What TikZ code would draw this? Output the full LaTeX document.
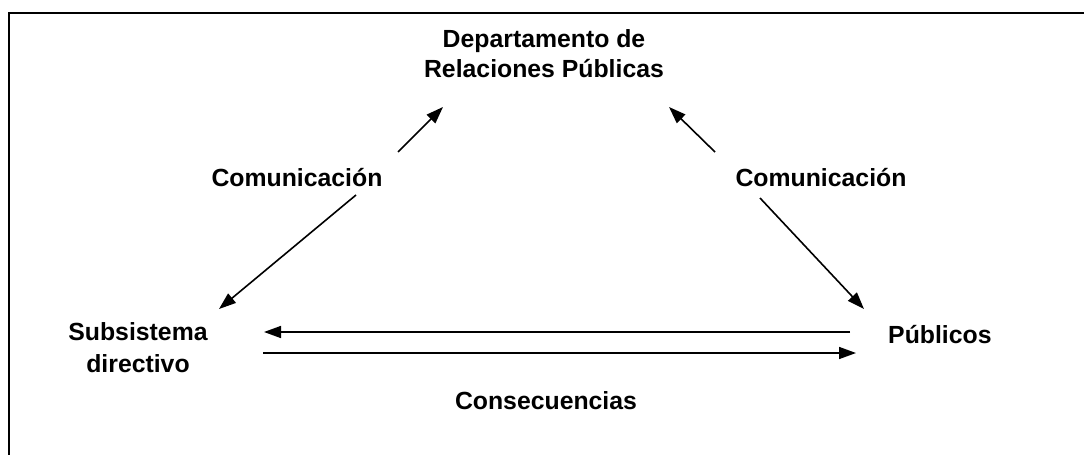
\documentclass[tikz,border=0pt]{standalone}
\usepackage{fontspec}
\setmainfont{Liberation Sans}
\usetikzlibrary{arrows.meta}
\begin{document}
\begin{tikzpicture}[x=1pt,y=-1pt,
  lbl/.style={font=\bfseries\fontsize{24.8}{31}\selectfont, inner sep=0pt, anchor=base},
  conn/.style={line width=1.6pt, -{Triangle[length=17pt,width=12pt]}},
  frame/.style={line width=2.2pt}]
\useasboundingbox (0,0) rectangle (1084,455);
% frame (top and left only)
\coordinate (fa) at (1084,13);
\coordinate (fb) at (9,13);
\coordinate (fc) at (9,455);
\draw[frame] (fa) -- (fb) -- (fc);
% labels
\node[lbl] (dep1) at (544,47) {Departamento de};
\node[lbl] (dep2) at (544,77) {Relaciones Públicas};
\node[lbl] (comL) at (297,186) {Comunicación};
\node[lbl] (comR) at (821,186) {Comunicación};
\node[lbl] (sub1) at (138,340) {Subsistema};
\node[lbl] (sub2) at (138,372) {directivo};
\node[lbl, anchor=base west] (pub) at (888,343) {Públicos};
\node[lbl] (cons) at (546,409) {Consecuencias};
% arrow end points
\coordinate (a1s) at (398,152); \coordinate (a1e) at (443,107);
\coordinate (a2s) at (715,152); \coordinate (a2e) at (669,107);
\coordinate (a3s) at (356,195); \coordinate (a3e) at (219,309);
\coordinate (a4s) at (760,198); \coordinate (a4e) at (864,309);
\coordinate (h1s) at (850,332); \coordinate (h1e) at (264,332);
\coordinate (h2s) at (263,353); \coordinate (h2e) at (856,353);
\draw[conn] (a1s) -- (a1e);
\draw[conn] (a2s) -- (a2e);
\draw[conn] (a3s) -- (a3e);
\draw[conn] (a4s) -- (a4e);
\draw[conn] (h1s) -- (h1e);
\draw[conn] (h2s) -- (h2e);
\end{tikzpicture}
\end{document}
